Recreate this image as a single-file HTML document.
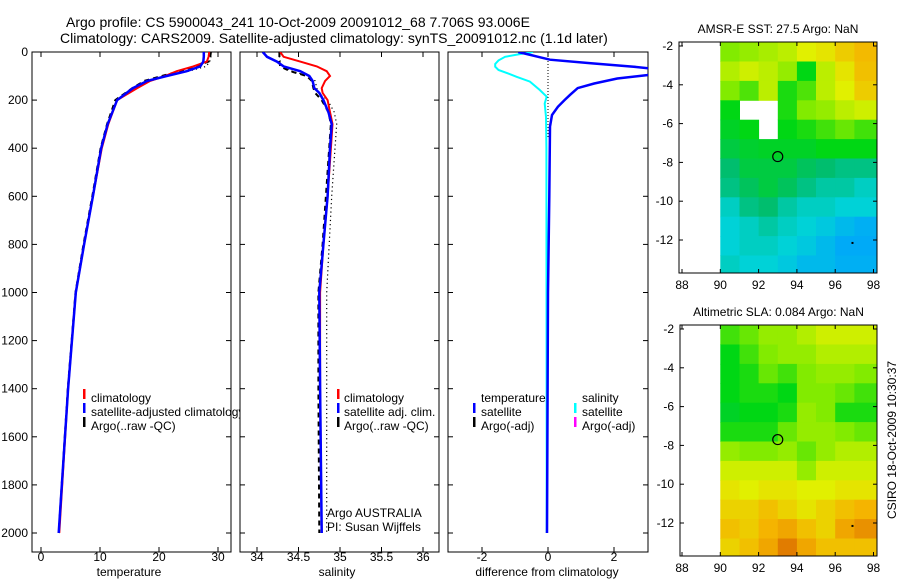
<!DOCTYPE html>
<html><head><meta charset="utf-8"><style>
body{margin:0;background:#fff;}
svg{display:block;font-family:"Liberation Sans",sans-serif;}
</style></head><body>
<svg id="fig" width="900" height="580" viewBox="0 0 900 580">
<defs>
<clipPath id="c1"><rect x="32" y="52" width="199" height="500"/></clipPath>
<clipPath id="c2"><rect x="240" y="52" width="199" height="500"/></clipPath>
<clipPath id="c3"><rect x="448" y="52" width="200" height="500"/></clipPath>
<clipPath id="cleg1"><rect x="32" y="380" width="208" height="60"/></clipPath>
<clipPath id="cm1"><rect x="679" y="42" width="198" height="231"/></clipPath>
<clipPath id="cm2"><rect x="680" y="325" width="197" height="231"/></clipPath>
</defs>
<text x="66" y="27" font-size="14">Argo profile: CS 5900043_241 10-Oct-2009 20091012_68 7.706S 93.006E</text>
<text x="60" y="43" font-size="14">Climatology: CARS2009. Satellite-adjusted climatology: synTS_20091012.nc (1.1d later)</text>
<g id="g"></g>
</svg>
<script>
// ---- profile data ----
const tDepth=[0,20,40,60,80,100,120,150,200,300,400,600,800,1000,1400,2000];
const tClim=[28.5,28.4,28.1,25.8,23,21,18.5,16.3,12.9,11.4,10.3,8.8,7.3,5.9,4.6,3.1];
const tSat=[27.6,27.6,27.5,27,24.7,21.3,18,15.6,12.9,11.3,10.2,8.8,7.3,5.9,4.6,3.0];
const tArgo=[28.8,28.7,28.4,26,23.5,20.5,17.5,15.5,12.6,11.2,10.1,8.7,7.2,5.85,4.55,3.0];
const tArgoRaw=[28.8,28.8,28.6,28,25,21.5,18,15.8,12.8,11.3,10.1,8.8,7.3,5.95,4.6,3.1];
const sDepth=[0,20,40,60,80,100,120,150,170,200,250,300,400,600,800,1000,1400,2000];
const sClim=[34.28,34.32,34.52,34.72,34.84,34.88,34.82,34.78,34.79,34.85,34.88,34.91,34.89,34.85,34.8,34.76,34.76,34.78];
const sSat=[34.07,34.12,34.24,34.32,34.52,34.63,34.67,34.69,34.75,34.8,34.86,34.9,34.88,34.85,34.8,34.75,34.76,34.78];
const sArgo=[34.27,34.27,34.27,34.28,34.4,34.6,34.66,34.68,34.7,34.78,34.86,34.89,34.87,34.83,34.79,34.74,34.74,34.75];
const sArgoRaw=[34.27,34.27,34.28,34.3,34.42,34.62,34.7,34.72,34.74,34.85,34.93,34.96,34.94,34.9,34.87,34.84,34.84,34.84];
const dDepthT=[0,10,20,32,47,61,75,85,96,110,131,150,178,200,228,262,310,600,1000,2000];
const dTemp=[-0.9,-0.6,-0.3,0.06,1.3,2.6,3.5,3.5,3.0,2.1,1.4,0.9,0.67,0.5,0.3,0.12,0.06,0.04,0.0,-0.03];
const dDepthS=[0,10,20,35,50,61,75,90,103,123,158,186,214,270,400,2000];
const dSal=[-0.45,-0.9,-1.3,-1.5,-1.6,-1.6,-1.5,-1.2,-0.95,-0.55,-0.25,-0.04,-0.1,-0.06,-0.05,-0.04];
const depthTicks=[0,200,400,600,800,1000,1200,1400,1600,1800,2000];
const tTicks=[0,10,20,30];
const sTicks=[34,34.5,35,35.5,36];
const sTickLabels=["34","34.5","35","35.5","36"];
const dTicks=[-2,0,2];
// ---- map data (rows from lat -1.8 southward, 1 deg cells; cols from lon 90) ----
const sstGrid=[
[0.70,0.72,0.74,0.76,0.80,0.82,0.86,0.89],
[0.75,0.78,0.76,0.72,0.60,0.76,0.82,0.88],
[0.70,0.66,0.76,0.62,0.66,0.76,0.80,0.86],
[0.60,null,null,0.62,0.70,0.72,0.76,0.78],
[0.58,0.60,null,0.60,0.62,0.65,0.68,0.65],
[0.55,0.57,0.58,0.58,0.58,0.60,0.60,0.60],
[0.50,0.55,0.55,0.55,0.52,0.50,0.48,0.48],
[0.48,0.52,0.55,0.52,0.48,0.45,0.45,0.42],
[0.42,0.48,0.50,0.45,0.42,0.42,0.40,0.40],
[0.40,0.42,0.45,0.42,0.40,0.38,0.35,0.33],
[0.40,0.42,0.42,0.40,0.38,0.35,0.32,0.32],
[0.42,0.40,0.40,0.38,0.35,0.35,0.33,0.33]];
const slaGrid=[
[0.65,0.68,0.72,0.72,0.75,0.78,0.78,0.78],
[0.60,0.65,0.70,0.72,0.72,0.75,0.75,0.75],
[0.60,0.62,0.68,0.65,0.70,0.72,0.72,0.70],
[0.60,0.62,0.62,0.60,0.70,0.70,0.68,0.65],
[0.58,0.60,0.60,0.62,0.72,0.70,0.62,0.62],
[0.62,0.62,0.62,0.68,0.72,0.72,0.70,0.68],
[0.72,0.70,0.70,0.72,0.68,0.72,0.75,0.75],
[0.78,0.78,0.78,0.78,0.72,0.78,0.78,0.78],
[0.82,0.80,0.82,0.82,0.80,0.80,0.82,0.82],
[0.85,0.85,0.88,0.85,0.82,0.85,0.88,0.90],
[0.88,0.86,0.90,0.92,0.88,0.85,0.92,0.95],
[0.85,0.88,0.92,0.98,0.92,0.88,0.88,0.88]];
const lonTicks=[88,90,92,94,96,98];
const latTicks=[-2,-4,-6,-8,-10,-12];
const argoPos=[93.0,-7.7];

const NS="http://www.w3.org/2000/svg";
const G=document.getElementById('g');
function mk(tag,attrs,parent){const e=document.createElementNS(NS,tag);for(const k in attrs)e.setAttribute(k,attrs[k]);(parent||G).appendChild(e);return e;}
const yD=d=>52+d*0.2405;
const xT=v=>41+v*5.9;
const xS=v=>257+(v-34)*83;
const xD=v=>548+v*33;

function line(xs,ds,xf,color,w,dash,clip,name){
  const pts=xs.map((v,i)=>xf(v).toFixed(1)+','+yD(ds[i]).toFixed(1)).join(' ');
  const p=mk('polyline',{points:pts,fill:'none',stroke:color,'stroke-width':w,'clip-path':'url(#'+clip+')'});
  if(dash)p.setAttribute('stroke-dasharray',dash);
  
  
}
function axesBox(x0,x1,name){
  const r=mk('rect',{x:x0,y:52,width:x1-x0,height:500,fill:'none',stroke:'#000','stroke-width':1});
  
  
  depthTicks.forEach(d=>{const y=yD(d);mk('line',{x1:x0,y1:y,x2:x0+5,y2:y,stroke:'#000'});mk('line',{x1:x1-5,y1:y,x2:x1,y2:y,stroke:'#000'});});
}
function xticks(ticks,labels,xf,name){
  ticks.forEach((t,i)=>{const x=xf(t);mk('line',{x1:x,y1:52,x2:x,y2:57,stroke:'#000'});mk('line',{x1:x,y1:547,x2:x,y2:552,stroke:'#000'});
    const tx=mk('text',{x:x,y:561,'font-size':12,'text-anchor':'middle'});tx.textContent=labels[i];
    
    });
}
function txt(x,y,s,size,name,anchor,clip){const t=mk('text',{x:x,y:y,'font-size':size,'text-anchor':anchor||'start'});if(clip)t.setAttribute('clip-path','url(#'+clip+')');t.textContent=s;
  
  return t;}
function legMark(x,y,color){mk('rect',{x:x,y:y-9,width:2.5,height:10,fill:color});}

// Panel 1
axesBox(32,231,'temperature-axes');
depthTicks.forEach(d=>{txt(28,yD(d)+4,String(d),12,'depth-tick-label','end');});
xticks(tTicks,tTicks.map(String),xT,'temperature');
line(tArgoRaw,tDepth,xT,'#000',1.2,'1.2 3','c1','temp-argo-raw-dotted');
line(tArgo,tDepth,xT,'#000',2,'5 4','c1','temp-argo-line');
line(tClim,tDepth,xT,'#f00',2,null,'c1','temp-climatology-line');
line(tSat,tDepth,xT,'#00f',2.5,null,'c1','temp-satellite-line');
legMark(83,398,'#f00');txt(91,402,'climatology',12,'legend-climatology');
legMark(83,412,'#00f');txt(91,416,'satellite-adjusted climatology',12,'legend-satellite','start','cleg1');
legMark(83,426,'#000');txt(91,430,'Argo(..raw -QC)',12,'legend-argo');
txt(129,576,'temperature',12,'x-axis-title-temperature','middle');

// Panel 2
axesBox(240,439,'salinity-axes');
xticks(sTicks,sTickLabels,xS,'salinity');
line(sArgoRaw,sDepth,xS,'#000',1.2,'1.2 3','c2','sal-argo-raw-dotted');
line(sArgo,sDepth,xS,'#000',2,'5 4','c2','sal-argo-line');
line(sClim,sDepth,xS,'#f00',2,null,'c2','sal-climatology-line');
line(sSat,sDepth,xS,'#00f',2.5,null,'c2','sal-satellite-line');
legMark(337,398,'#f00');txt(344,402,'climatology',12,'legend-sal-climatology');
legMark(337,412,'#00f');txt(344,416,'satellite adj. clim.',12,'legend-sal-satellite');
legMark(337,426,'#000');txt(344,430,'Argo(..raw -QC)',12,'legend-sal-argo');
txt(327,517,'Argo AUSTRALIA',12,'argo-agency-label');
txt(327,531,'PI: Susan Wijffels',12,'pi-label');
txt(337,576,'salinity',12,'x-axis-title-salinity','middle');

// Panel 3
axesBox(448,648,'difference-axes');
xticks(dTicks,dTicks.map(String),xD,'difference');
mk('line',{x1:xD(0),y1:52,x2:xD(0),y2:137,stroke:'#000','stroke-dasharray':'1 2'});
line(dSal,dDepthS,xD,'#0ff',2,null,'c3','diff-salinity-satellite-line');
line(dTemp,dDepthT,xD,'#00f',2.5,null,'c3','diff-temperature-satellite-line');
txt(481,402,'temperature',12,'legend-header-temperature');
legMark(473,412,'#00f');txt(481,416,'satellite',12,'legend-diff-temp-satellite');
legMark(473,426,'#000');txt(481,430,'Argo(-adj)',12,'legend-diff-temp-argo');
txt(582,402,'salinity',12,'legend-header-salinity');
legMark(574,412,'#0ff');txt(582,416,'satellite',12,'legend-diff-sal-satellite');
legMark(574,426,'#f0f');txt(582,430,'Argo(-adj)',12,'legend-diff-sal-argo');
txt(547,576,'difference from climatology',12,'x-axis-title-difference','middle');

// colormap
const cmap=[[0.30,[0,160,255]],[0.40,[0,210,215]],[0.50,[0,190,110]],[0.60,[0,215,20]],[0.70,[130,235,0]],[0.80,[225,240,0]],[0.90,[245,180,0]],[1.0,[220,110,0]]];
function col(v){if(v<=cmap[0][0])return 'rgb('+cmap[0][1]+')';for(let i=1;i<cmap.length;i++){if(v<=cmap[i][0]){const a=cmap[i-1],b=cmap[i],f=(v-a[0])/(b[0]-a[0]);return 'rgb('+a[1].map((c,k)=>Math.round(c+(b[1][k]-c)*f)).join(',')+')';}}return 'rgb('+cmap[cmap.length-1][1]+')';}

function map(grid,box,lat0y,title,name,clip){
  const [x0,y0,x1,y1]=box;
  const lx=lon=>682+(lon-88)*19.15;
  const ly=lat=>lat0y+(-2-lat)*19.4;
  const g=mk('g',{'clip-path':'url(#'+clip+')'});
  
  
  grid.forEach((row,j)=>row.forEach((v,i)=>{
    if(v===null)return;
    const xa=lx(90+i),xb=lx(91+i)+(i==row.length-1?6:0),ya=ly(-1.8-j),yb=ly(-2.8-j)+(j==grid.length-1?6:0);
    const r=mk('rect',{x:xa.toFixed(1),y:ya.toFixed(1),width:(xb-xa+0.5).toFixed(1),height:(yb-ya+0.5).toFixed(1),fill:col(v)},g);
    
    
  }));
  const b=mk('rect',{x:x0,y:y0,width:x1-x0,height:y1-y0,fill:'none',stroke:'#000'});
  
  
  lonTicks.forEach(l=>{const x=lx(l);mk('line',{x1:x,y1:y1,x2:x,y2:y1-4,stroke:'#000'});mk('line',{x1:x,y1:y0,x2:x,y2:y0+4,stroke:'#000'});txt(x,y1+16,String(l),12,name+'-lon-label','middle');});
  latTicks.forEach(l=>{const y=ly(l);mk('line',{x1:x0,y1:y,x2:x0+4,y2:y,stroke:'#000'});mk('line',{x1:x1-4,y1:y,x2:x1,y2:y,stroke:'#000'});txt(x0-6,y+4,String(l),12,name+'-lat-label','end');});
  const c=mk('circle',{cx:lx(argoPos[0]),cy:ly(argoPos[1]),r:5,fill:'none',stroke:'#000','stroke-width':1.2});
  
  
  mk('rect',{x:lx(96.85),y:ly(-12.1),width:2,height:2,fill:'#000'});
  txt((x0+x1)/2,y0-9,title,12,name+'-title','middle');
}
map(sstGrid,[679,42,877,273],46,'AMSR-E SST: 27.5 Argo: NaN','sst-map','cm1');
map(slaGrid,[680,325,877,556],329,'Altimetric SLA: 0.084 Argo: NaN','sla-map','cm2');
const r=txt(0,0,'CSIRO 18-Oct-2009 10:30:37',12,'timestamp-label','middle');
r.setAttribute('transform','translate(896,440) rotate(-90)');
</script>
</body></html>
